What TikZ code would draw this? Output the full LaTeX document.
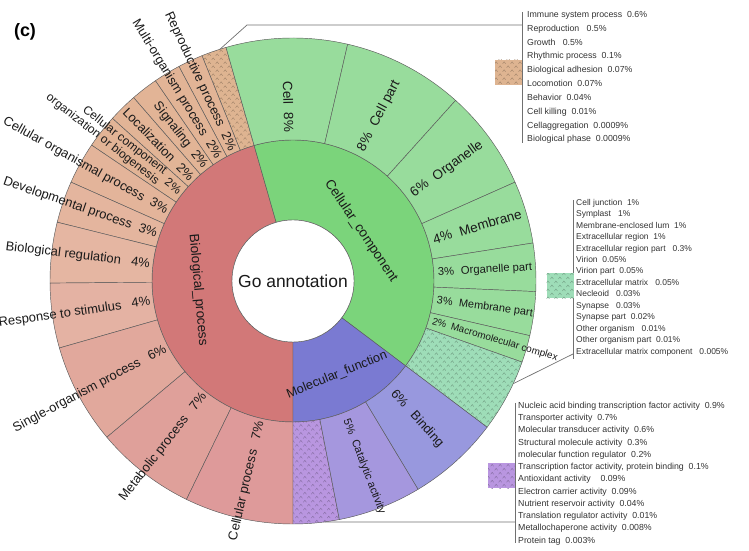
\documentclass[tikz,border=0pt]{standalone}
\usepackage{fontspec}
\setmainfont{Liberation Sans}
\usetikzlibrary{patterns}
\definecolor{ink}{HTML}{1A1A1A}
\definecolor{legink}{HTML}{333333}
\definecolor{edge}{HTML}{5A5A5A}
\definecolor{legrule}{HTML}{707070}
\definecolor{bpIn}{HTML}{D27878}
\definecolor{bpA}{HTML}{E2B496}
\definecolor{bpB}{HTML}{E3B49A}
\definecolor{bpC}{HTML}{E4B59E}
\definecolor{bpD}{HTML}{E5B6A2}
\definecolor{bpE}{HTML}{E4B2A3}
\definecolor{bpF}{HTML}{E1A89C}
\definecolor{bpG}{HTML}{DFA09A}
\definecolor{bpH}{HTML}{DE9A9A}
\definecolor{tanH}{HTML}{DEB491}
\definecolor{ccIn}{HTML}{7BD47B}
\definecolor{ccOut}{HTML}{98DC9C}
\definecolor{ccH}{HTML}{9EDDB8}
\definecolor{mfIn}{HTML}{7A7AD2}
\definecolor{mfBind}{HTML}{9898DE}
\definecolor{mfCat}{HTML}{A597DE}
\definecolor{mfH}{HTML}{B996E0}
\pgfdeclarepatternformonly{weave}{\pgfpoint{-0.5pt}{-0.5pt}}{\pgfpoint{8.5pt}{8.5pt}}{\pgfpoint{8pt}{8pt}}{%
  \pgfsetlinewidth{0.4pt}%
  \pgfpathmoveto{\pgfpoint{0.5pt}{1pt}}\pgfpathlineto{\pgfpoint{2pt}{3pt}}\pgfpathlineto{\pgfpoint{3.5pt}{1pt}}%
  \pgfpathmoveto{\pgfpoint{4.5pt}{5pt}}\pgfpathlineto{\pgfpoint{6pt}{7pt}}\pgfpathlineto{\pgfpoint{7.5pt}{5pt}}%
  \pgfusepath{stroke}}
% ring segment: [style]{inner r}{outer r}{start}{end}
\newcommand{\ringseg}[5][]{%
  \path[#1] (#4:#2) arc[start angle=#4,end angle=#5,radius=#2] -- (#5:#3)
    arc[start angle=#5,end angle=#4,radius=#3] -- cycle;}
\tikzset{
  seg/.style={draw=edge,line width=0.45pt},
  hatched/.style={seg,fill=#1,postaction={pattern=weave,pattern color=#1!72!black}},
  bplbl/.style={font=\fontsize{13}{15}\selectfont,text=ink,inner sep=0pt,anchor=east},
  cclbl/.style={font=\fontsize{13.5}{15}\selectfont,text=ink,inner sep=0pt,anchor=west},
  inlbl/.style={font=\fontsize{13.5}{15}\selectfont,text=ink,inner sep=0pt},
  legtxt/.style={anchor=west,align=left,inner sep=0pt,text=legink},
  swatch/.style={minimum width=27bp,minimum height=25bp,inner sep=0pt},
  legline/.style={draw=legrule,line width=0.7pt}
}
\begin{document}
\begin{tikzpicture}[x=1bp,y=1bp]
  \useasboundingbox (0,0) rectangle (749,551);
  \node[font=\bfseries\fontsize{18}{20}\selectfont,inner sep=0pt] (panel) at (25,519) {(c)};

  \begin{scope}[shift={(293,270)}]
    % inner ring
    \ringseg[seg,fill=bpIn]{61}{141}{106}{270}
    \ringseg[seg,fill=ccIn]{61}{141}{-37}{106}
    \ringseg[seg,fill=mfIn]{61}{141}{270}{323}
    % outer ring, biological process
    \ringseg[hatched=tanH]{141}{243}{106}{112}
    \ringseg[seg,fill=bpA]{141}{243}{112}{118}
    \ringseg[seg,fill=bpA]{141}{243}{118}{124.5}
    \ringseg[seg,fill=bpA]{141}{243}{124.5}{131}
    \ringseg[seg,fill=bpA]{141}{243}{131}{138}
    \ringseg[seg,fill=bpA]{141}{243}{138}{146}
    \ringseg[seg,fill=bpB]{141}{243}{146}{156}
    \ringseg[seg,fill=bpC]{141}{243}{156}{166}
    \ringseg[seg,fill=bpD]{141}{243}{166}{180.5}
    \ringseg[seg,fill=bpE]{141}{243}{180.5}{196}
    \ringseg[seg,fill=bpF]{141}{243}{196}{220}
    \ringseg[seg,fill=bpG]{141}{243}{220}{244}
    \ringseg[seg,fill=bpH]{141}{243}{244}{270}
    % outer ring, cellular component
    \ringseg[seg,fill=ccOut]{141}{243}{77}{106}
    \ringseg[seg,fill=ccOut]{141}{243}{48}{77}
    \ringseg[seg,fill=ccOut]{141}{243}{24}{48}
    \ringseg[seg,fill=ccOut]{141}{243}{9}{24}
    \ringseg[seg,fill=ccOut]{141}{243}{-2.5}{9}
    \ringseg[seg,fill=ccOut]{141}{243}{-13}{-2.5}
    \ringseg[seg,fill=ccOut]{141}{243}{-19.5}{-13}
    \ringseg[hatched=ccH]{141}{243}{-37}{-19.5}
    % outer ring, molecular function
    \ringseg[hatched=mfH]{141}{243}{270}{281}
    \ringseg[seg,fill=mfCat]{141}{243}{281}{301}
    \ringseg[seg,fill=mfBind]{141}{243}{301}{323}

    \node[circle,draw=edge,line width=0.45pt,fill=white,minimum size=122bp,inner sep=0pt,
      font=\fontsize{17.5}{20}\selectfont,text=ink] (root) at (0,0) {Go annotation};
    \node[inlbl,rotate=-85] (bpName) at (-95,-9) {Biological\_process};
    \node[inlbl,rotate=-56] (ccName) at (68,50) {Cellular\_component};
    \node[inlbl,font=\fontsize{12.8}{15}\selectfont,rotate=22] (mfName) at (44,-94) {Molecular\_function};

    \node[bplbl,rotate=-65] (lRepro) at (115:144) {Reproductive process\hspace{0.6em}2\%};
    \node[bplbl,rotate=-58.75] (lMulti) at (121.25:144) {Multi-organism process\hspace{0.6em}2\%};
    \node[bplbl,rotate=-52.25] (lSignal) at (127.75:144) {Signaling\hspace{0.6em}2\%};
    \node[bplbl,rotate=-45.5] (lLocal) at (134.5:144) {Localization\hspace{0.6em}2\%};
    \node[bplbl,font=\fontsize{12}{12.5}\selectfont,rotate=-38] (lBiogen) at (142:144)
      {\begin{tabular}{@{}r@{}}Cellular component\\organization or biogenesis\end{tabular}\hspace{0.5em}2\%};
    \node[bplbl,rotate=-29] (lOrgan) at (151:144) {Cellular organismal process\hspace{0.6em}3\%};
    \node[bplbl,rotate=-19] (lDevel) at (161:144) {Developmental process\hspace{0.6em}3\%};
    \node[bplbl,rotate=-6.75] (lRegul) at (173.25:144) {Biological regulation\hspace{0.8em}4\%};
    \node[bplbl,rotate=8.25] (lStim) at (188.25:144) {Response to stimulus\hspace{0.8em}4\%};
    \node[bplbl,rotate=28] (lSingle) at (208:144) {Single-organism process\hspace{0.8em}6\%};
    \node[bplbl,rotate=52] (lMetab) at (232:144) {Metabolic process\hspace{0.8em}7\%};
    \node[bplbl,rotate=77] (lCellp) at (257:144) {Cellular process\hspace{0.8em}7\%};

    \node[cclbl,anchor=east,rotate=-88.5] (lCell) at (91.5:149) {Cell\hspace{0.6em}8\%};
    \node[cclbl,rotate=62.5] (lCellpart) at (62.5:147) {8\%\hspace{0.6em}Cell part};
    \node[cclbl,rotate=36] (lOrganelle) at (36:147) {6\%\hspace{0.6em}Organelle};
    \node[cclbl,rotate=16.5] (lMembr) at (16.5:146) {4\%\hspace{0.6em}Membrane};
    \node[cclbl,font=\fontsize{11.3}{13}\selectfont,rotate=3.25] (lOrgpart) at (3.25:145) {3\%\hspace{0.6em}Organelle part};
    \node[cclbl,font=\fontsize{11}{13}\selectfont,rotate=-7.75] (lMempart) at (-7.75:145) {3\%\hspace{0.6em}Membrane part};
    \node[cclbl,font=\fontsize{10}{12}\selectfont,rotate=-16.25] (lMacro) at (-16.25:145) {2\%\hspace{0.5em}Macromolecular complex};

    \node[cclbl,font=\fontsize{11}{13}\selectfont,rotate=-69] (lCatal) at (291:148) {5\%\hspace{0.6em}Catalytic activity};
    \node[cclbl,font=\fontsize{13}{15}\selectfont,rotate=-48] (lBind) at (312:149) {6\%\hspace{0.8em}Binding};

    \coordinate (bpTip) at (107.5:243);
    \coordinate (ccTip) at (-25:243);
    \coordinate (mfTip) at (277.4:243);
  \end{scope}

  % legend: other biological processes
  \coordinate (bpKnee) at (247,526);
  \coordinate (bpJoin) at (522,526);
  \coordinate (bpRuleA) at (522,539);
  \coordinate (bpRuleB) at (522,408);
  \draw[legline] (bpTip) -- (bpKnee) -- (bpJoin);
  \draw[legline] (bpRuleA) -- (bpRuleB);
  \node[swatch,fill=tanH,postaction={pattern=weave,pattern color=tanH!72!black}] (bpSwatch) at (508.5,478.5) {};
  \node[legtxt,font=\fontsize{8.8}{13.9}\selectfont] (bpList) at (527,473.5) {%
    Immune system process~~0.6\%\\Reproduction~~~0.5\%\\Growth~~~0.5\%\\Rhythmic process~~0.1\%\\%
    Biological adhesion~~0.07\%\\Locomotion~~0.07\%\\Behavior~~0.04\%\\Cell killing~~0.01\%\\%
    Cellaggregation~~0.0009\%\\Biological phase~~0.0009\%};

  % legend: other cellular components
  \coordinate (ccJoin) at (573,197);
  \coordinate (ccRuleA) at (573,351);
  \coordinate (ccRuleB) at (573,192);
  \draw[legline] (ccTip) -- (ccJoin);
  \draw[legline] (ccRuleA) -- (ccRuleB);
  \node[swatch,fill=ccH,postaction={pattern=weave,pattern color=ccH!72!black}] (ccSwatch) at (560,265) {};
  \node[legtxt,font=\fontsize{8.5}{11.5}\selectfont] (ccList) at (576,273.5) {%
    Cell junction~~1\%\\Symplast~~~1\%\\Membrane-enclosed lum~~1\%\\Extracellular region~~1\%\\%
    Extracellular region part~~~0.3\%\\Virion~~0.05\%\\Virion part~~0.05\%\\Extracellular matrix~~~0.05\%\\%
    Necleoid~~~0.03\%\\Synapse~~~0.03\%\\Synapse part~~0.02\%\\Other organism~~~0.01\%\\%
    Other organism part~~0.01\%\\Extracellular matrix component~~~0.005\%};

  % legend: other molecular functions
  \coordinate (mfJoin) at (515,29);
  \coordinate (mfRuleA) at (515,148);
  \coordinate (mfRuleB) at (515,8);
  \draw[legline] (mfTip) -- (mfJoin);
  \draw[legline] (mfRuleA) -- (mfRuleB);
  \node[swatch,fill=mfH,postaction={pattern=weave,pattern color=mfH!72!black}] (mfSwatch) at (501.5,75) {};
  \node[legtxt,font=\fontsize{8.8}{12.3}\selectfont] (mfList) at (518,77.5) {%
    Nucleic acid binding transcription factor activity~~0.9\%\\Transporter activity~~0.7\%\\%
    Molecular transducer activity~~0.6\%\\Structural molecule activity~~0.3\%\\%
    molecular function regulator~~0.2\%\\Transcription factor activity, protein binding~~0.1\%\\%
    Antioxidant activity~~~~0.09\%\\Electron carrier activity~~0.09\%\\Nutrient reservoir activity~~0.04\%\\%
    Translation regulator activity~~0.01\%\\Metallochaperone activity~~0.008\%\\Protein tag~~0.003\%};
\end{tikzpicture}
\end{document}
